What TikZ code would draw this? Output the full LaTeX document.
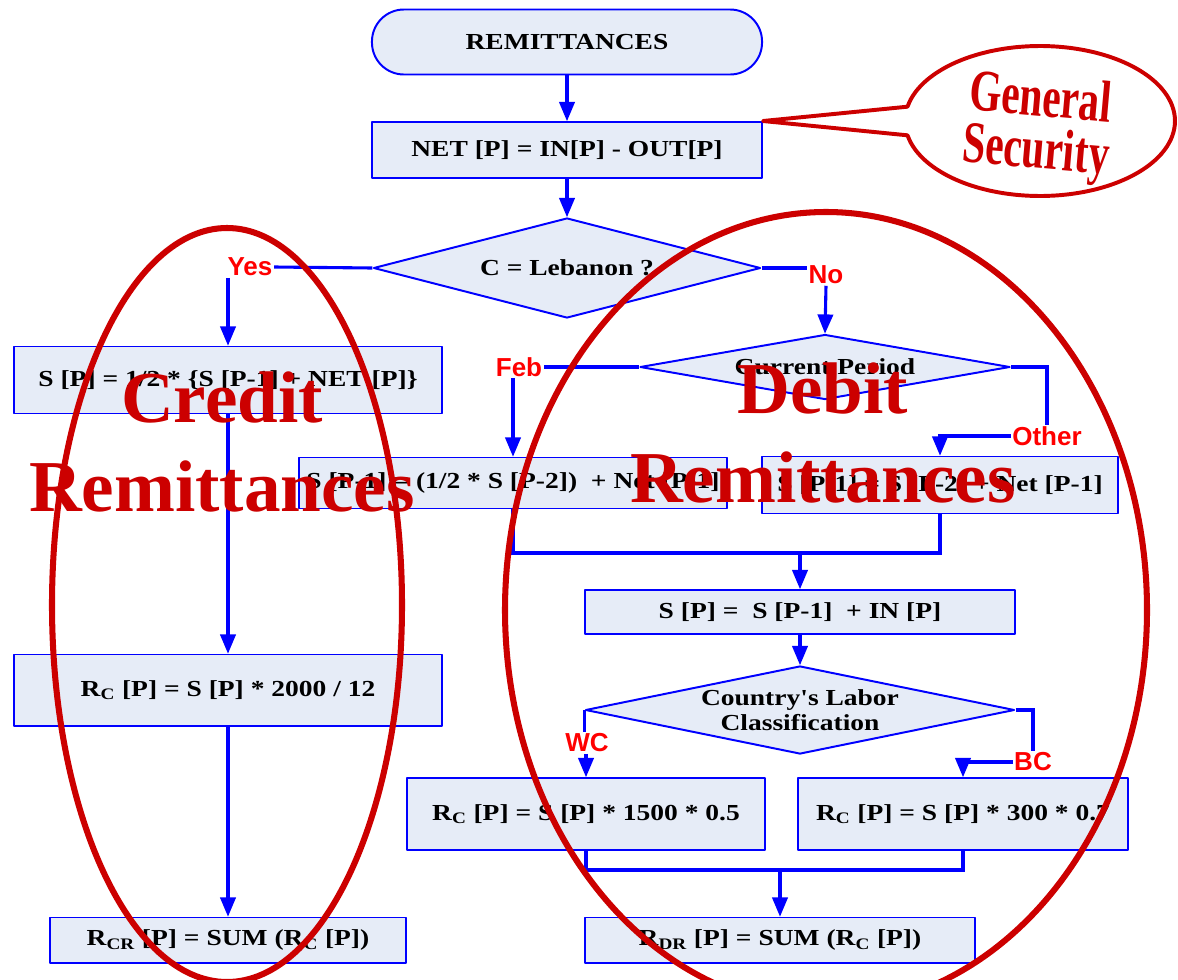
\documentclass[tikz,border=0pt]{standalone}
\usepackage{fontspec}
\usepackage{tikz}
\usetikzlibrary{arrows,shapes.geometric}
\newfontfamily\boxfont[FakeStretch=1.2]{Liberation Serif}
\newfontfamily\labfont{Liberation Sans}
\newfontfamily\bigfont{Liberation Serif}
\newfontfamily\gsfont[FakeStretch=0.7]{Liberation Serif}
\definecolor{boxfill}{RGB}{230,236,247}
\definecolor{flowblue}{RGB}{0,0,255}
\definecolor{darkred}{RGB}{204,0,0}
\definecolor{labred}{RGB}{255,0,0}

\begin{document}
\begin{tikzpicture}[line cap=round,line join=round,>=triangle 45,x=0.025cm,y=-0.025cm,
	box/.style={draw=flowblue,fill=boxfill,line width=1.4pt,inner sep=0pt,font={\boxfont\bfseries\fontsize{16.3}{19}\selectfont}},
	terminal/.style={box,rounded corners=0.8cm},
	decision/.style={box,diamond,align=center},
	lab/.style={text=labred,inner sep=1pt,font={\labfont\bfseries\fontsize{18.5}{20}\selectfont}},
	link/.style={draw=flowblue,line width=2.2pt,line cap=butt,line join=miter},
	ring/.style={draw=darkred,line width=4.3pt},
	callout/.style={draw=darkred,line width=2.8pt},
	bigtext/.style={text=darkred,align=center,font={\bigfont\bfseries\fontsize{52}{63}\selectfont}},
	gstext/.style={text=darkred,align=center,font={\gsfont\bfseries\fontsize{42}{37}\selectfont}}]
		\useasboundingbox (0,0) rectangle (1178,980);
		
		% top of the chart
		\node[terminal,minimum width=9.75cm,minimum height=1.625cm] (start) at (567,42) {REMITTANCES};
		\node[box,minimum width=9.75cm,minimum height=1.4cm] (net) at (567,150) {NET [P] = IN[P] - OUT[P]};
		\node[decision,minimum width=9.675cm,minimum height=2.5cm,aspect=3.9] (d1) at (567,268) {C = Lebanon ?};
		\node[lab] (yes) at (250,267) {Yes};
		\node[lab] (no) at (826,275) {No};
		
		% credit side
		\node[box,minimum width=10.675cm,minimum height=1.675cm] (s1) at (228,380) {S [P] = 1/2 * \{S [P-1] + NET [P]\}};
		\node[box,minimum width=10.675cm,minimum height=1.775cm] (r0) at (228,690) {R\textsubscript{C} [P] = S [P] * 2000 / 12};
		\node[box,minimum width=8.875cm,minimum height=1.125cm] (rcr) at (228,940) {R\textsubscript{CR} [P] = SUM (R\textsubscript{C} [P])};
		
		% debit side
		\node[decision,minimum width=9.25cm,minimum height=1.625cm,aspect=5.7] (d2) at (825,367) {Current Period};
		\node[lab] (feb) at (519,367) {Feb};
		\node[lab] (other) at (1047,436) {Other};
		\node[box,minimum width=10.675cm,minimum height=1.275cm] (m1) at (513,483) {S [P-1] = (1/2 * S [P-2])\ \ + Net [P-1]};
		\node[box,minimum width=8.9cm,minimum height=1.425cm] (m2) at (940,485) {S [P-1] = S [P-2] + Net [P-1]};
		\node[box,minimum width=10.75cm,minimum height=1.1cm] (s2) at (800,612) {S [P] =\ \ S [P-1]\ \ + IN [P]};
		\node[decision,minimum width=10.725cm,minimum height=2.2cm,aspect=4.9,font={\boxfont\bfseries\fontsize{16.3}{17.7}\selectfont}] (d3) at (800,710) {Country's Labor\\Classification};
		\node[lab] (wc) at (587,743) {WC};
		\node[lab] (bc) at (1033,762) {BC};
		\node[box,minimum width=8.95cm,minimum height=1.8cm] (r1) at (586,814) {R\textsubscript{C} [P] = S [P] * 1500 * 0.5};
		\node[box,minimum width=8.25cm,minimum height=1.8cm] (r2) at (963,814) {R\textsubscript{C} [P] = S [P] * 300 * 0.7};
		\node[box,minimum width=9.75cm,minimum height=1.125cm] (rdr) at (780,940) {R\textsubscript{DR} [P] = SUM (R\textsubscript{C} [P])};
		\coordinate (j1) at (800,553);
		\coordinate (j2) at (780,870);
		
		% connectors
		\draw[link,->] (start) -- (net);
		\draw[link,->] (net) -- (d1);
		\draw[link] (d1.west) -- (yes.east);
		\draw[link,->] (yes.south -| s1.north) -- (s1.north);
		\draw[link] (d1.east) -- (d1.east -| no.west);
		\draw[link,->] (no.south) -- (d2.north);
		\draw[link,->] (s1) -- (r0);
		\draw[link,->] (r0) -- (rcr);
		\draw[link] (d2.west) -- (feb.east);
		\draw[link,->] (feb.south -| m1.north) -- (m1.north);
		\draw[link] (d2.east) -| (other.north);
		\draw[link,->] (other.west) -| (m2.north);
		\draw[link] (m1.south) |- (j1) -| (m2.south);
		\draw[link,->] (j1) -- (s2.north);
		\draw[link,->] (s2) -- (d3);
		\draw[link] (d3.west) -- (d3.west |- wc.north);
		\draw[link,->] (wc.south -| r1.north) -- (r1.north);
		\draw[link] (d3.east) -| (bc.north);
		\draw[link,->] (bc.west) -| (r2.north);
		\draw[link] (r1.south) |- (j2) -| (r2.south);
		\draw[link,->] (j2) -- (rdr.north);
		
		% red marks on top
		\draw[ring] (227,605) ellipse [x radius=175, y radius=377];
		\draw[ring] (826,610) ellipse [x radius=321, y radius=398];
		\draw[callout] plot[smooth,domain=191:529,samples=60] ({1040+135*cos(\x)},{121+75*sin(\x)}) -- (net.north east) -- cycle;
		\node[bigtext] (credit) at (222,442) {Credit\\Remittances};
		\node[bigtext] (debit) at (823,433) {Debit\\Remittances};
		\node[gstext,rotate=-5] (gs) at (1038,128) {General\\Security};
	\end{tikzpicture}
\end{document}
